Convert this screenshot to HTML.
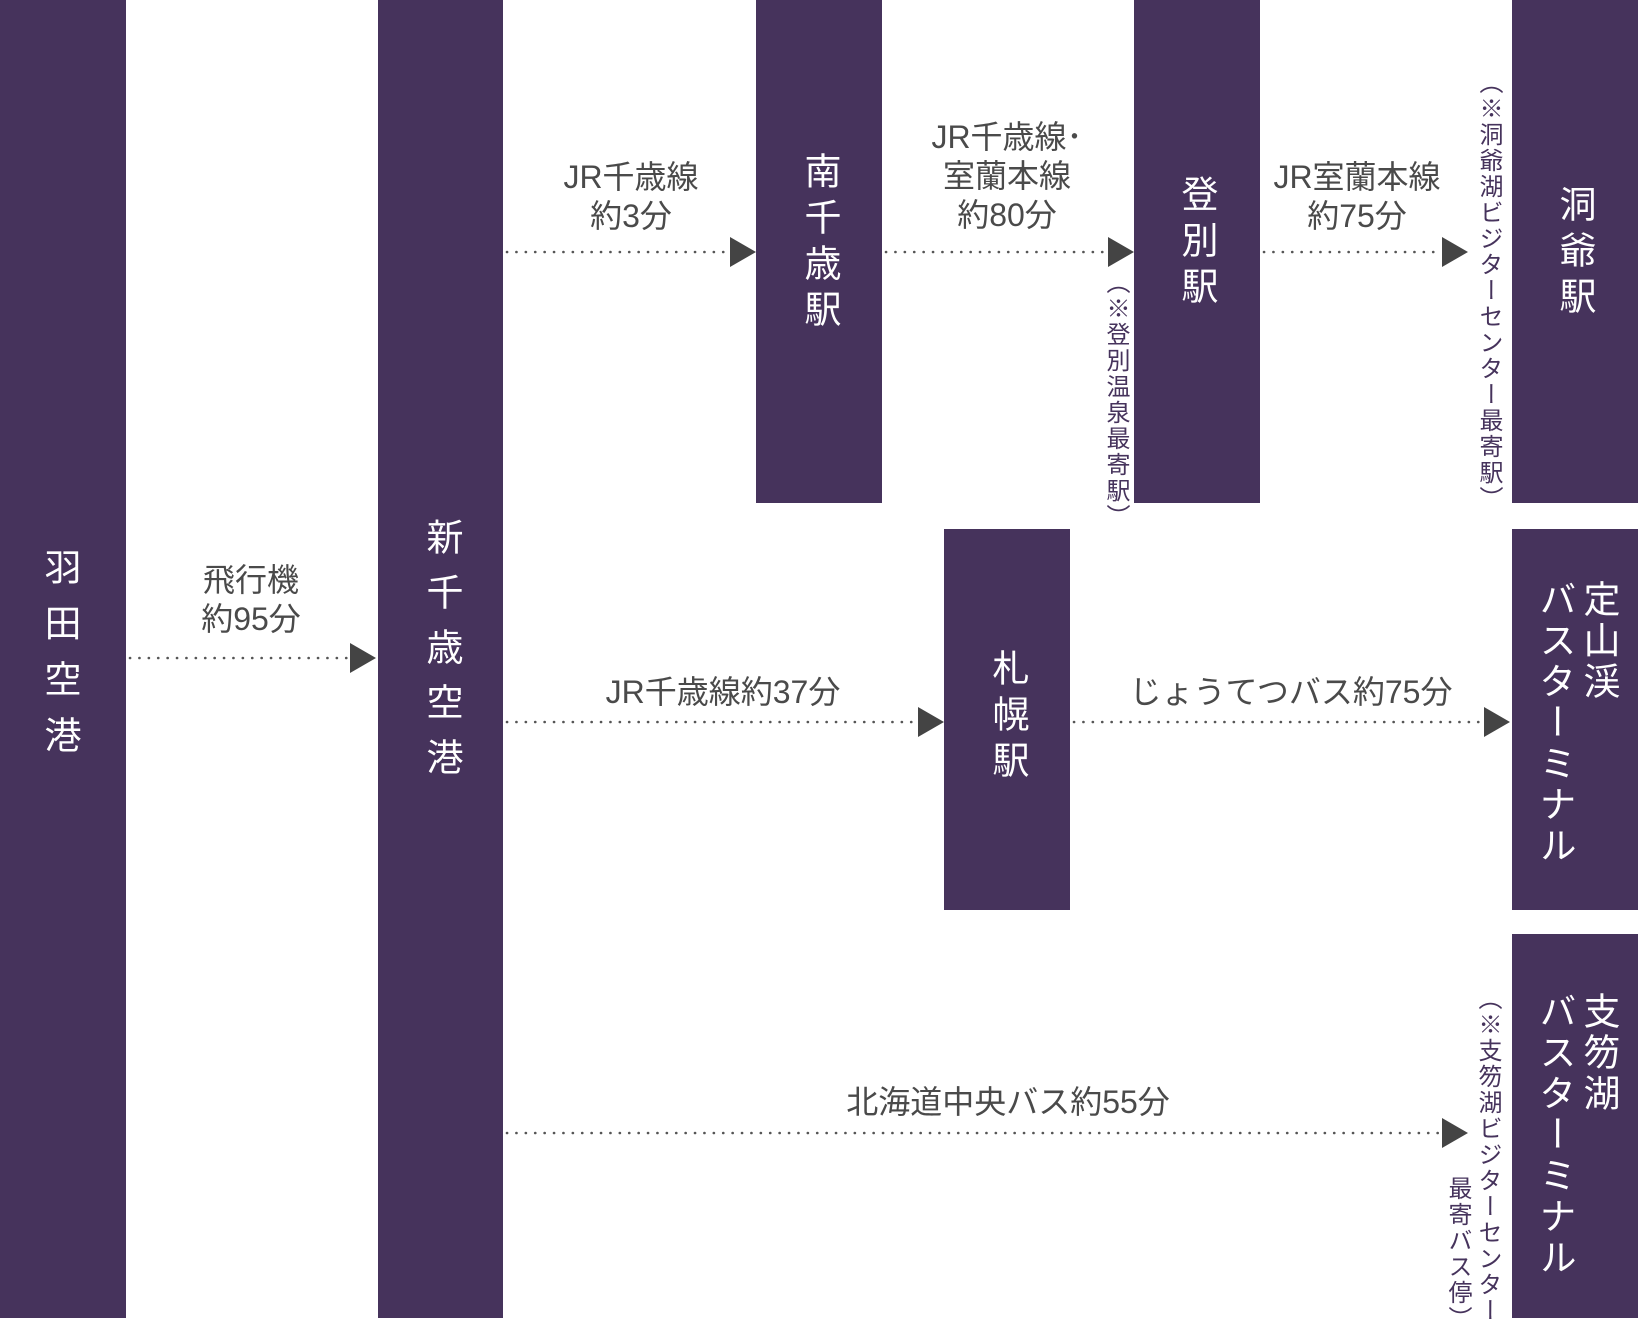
<!DOCTYPE html>
<html><head><meta charset="utf-8"><style>
body{margin:0;width:1638px;height:1318px;background:#fff;position:relative;overflow:hidden;font-family:"Liberation Sans","Noto Sans CJK JP",sans-serif}
.b{position:absolute;background:#46335c}
.v{position:absolute;writing-mode:vertical-rl;color:#fff;font-size:37px;line-height:44px;white-space:nowrap}
.t{position:absolute;color:#4a4a4a;font-size:32px;line-height:39px;text-align:center;white-space:nowrap;transform:translateX(-50%)}
.n{position:absolute;writing-mode:vertical-rl;color:#46335c;font-size:24px;line-height:27px;letter-spacing:2px;white-space:nowrap}
svg{position:absolute;left:0;top:0}
</style></head><body>
<div class="b" style="left:0;top:0;width:126px;height:1318px"></div>
<div class="b" style="left:378px;top:0;width:125px;height:1318px"></div>
<div class="b" style="left:756px;top:0;width:126px;height:503px"></div>
<div class="b" style="left:1134px;top:0;width:126px;height:503px"></div>
<div class="b" style="left:1512px;top:0;width:126px;height:503px"></div>
<div class="b" style="left:944px;top:529px;width:126px;height:381px"></div>
<div class="b" style="left:1512px;top:529px;width:126px;height:381px"></div>
<div class="b" style="left:1512px;top:934px;width:126px;height:384px"></div>

<div class="v" style="left:37px;top:548px;letter-spacing:19px">羽田空港</div>
<div class="v" style="left:419px;top:518px;letter-spacing:18px">新千歳空港</div>
<div class="v" style="left:797px;top:152px;letter-spacing:9px">南千歳駅</div>
<div class="v" style="left:1174px;top:175px;letter-spacing:9px">登別駅</div>
<div class="v" style="left:1552px;top:185px;letter-spacing:9px">洞爺駅</div>
<div class="v" style="left:985px;top:649px;letter-spacing:9px">札幌駅</div>
<div class="v" style="left:1532px;top:580px;line-height:44px;letter-spacing:4px">定山渓<br>バスターミナル</div>
<div class="v" style="left:1532px;top:992px;line-height:44px;letter-spacing:4px">支笏湖<br>バスターミナル</div>

<div class="n" style="left:1102px;top:270px">（※登別温泉最寄駅）</div>
<div class="n" style="left:1475px;top:70px">（※洞爺湖ビジターセンター最寄駅）</div>
<div class="n" style="left:1474px;top:986px">（※支笏湖ビジターセンター</div>
<div class="n" style="left:1444px;top:1176px">最寄バス停）</div>

<div class="t" style="left:251px;top:561px">飛行機<br>約95分</div>
<div class="t" style="left:631px;top:158px">JR千歳線<br>約3分</div>
<div class="t" style="left:1007px;top:118px">JR千歳線･<br>室蘭本線<br>約80分</div>
<div class="t" style="left:1357px;top:158px">JR室蘭本線<br>約75分</div>
<div class="t" style="left:723px;top:673px">JR千歳線約37分</div>
<div class="t" style="left:1291px;top:673px">じょうてつバス約75分</div>
<div class="t" style="left:1008px;top:1083px">北海道中央バス約55分</div>

<svg width="1638" height="1318">
<g stroke="#555" stroke-width="2.6" stroke-linecap="round" stroke-dasharray="0.1 9.3" fill="none">
<line x1="130" y1="658" x2="350" y2="658"/>
<line x1="507" y1="252" x2="728" y2="252"/>
<line x1="886" y1="252" x2="1106" y2="252"/>
<line x1="1264" y1="252" x2="1440" y2="252"/>
<line x1="507" y1="722" x2="916" y2="722"/>
<line x1="1074" y1="722" x2="1482" y2="722"/>
<line x1="507" y1="1133" x2="1440" y2="1133"/>
</g>
<g fill="#444">
<polygon points="350,643 376,658 350,673"/>
<polygon points="730,237 756,252 730,267"/>
<polygon points="1108,237 1134,252 1108,267"/>
<polygon points="1442,237 1468,252 1442,267"/>
<polygon points="918,707 944,722 918,737"/>
<polygon points="1484,707 1510,722 1484,737"/>
<polygon points="1442,1118 1468,1133 1442,1148"/>
</g>
</svg>
</body></html>
